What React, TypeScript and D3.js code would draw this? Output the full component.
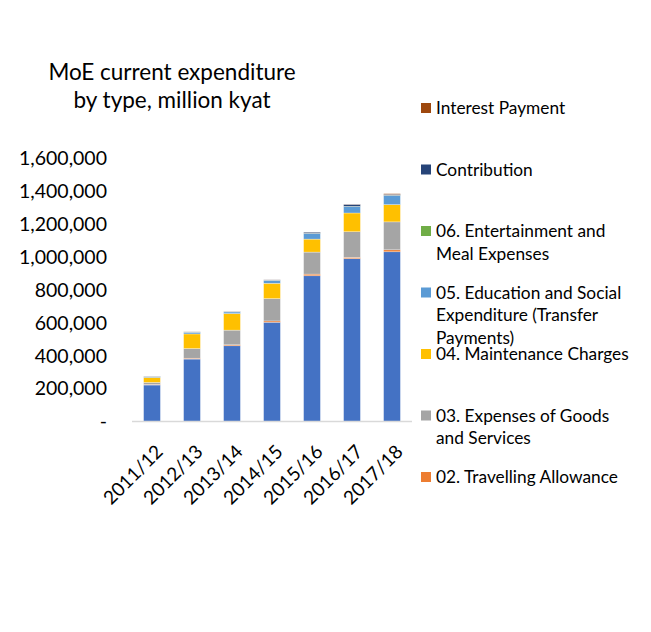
import React from "react";
import * as d3 from "d3";

const years = ["2011/12", "2012/13", "2013/14", "2014/15", "2015/16", "2016/17", "2017/18"];
const seriesNames = [
  "01. Salary",
  "02. Travelling Allowance",
  "03. Expenses of Goods and Services",
  "04. Maintenance Charges",
  "05. Education and Social Expenditure (Transfer Payments)",
  "06. Entertainment and Meal Expenses",
  "Contribution",
  "Interest Payment",
];
const salary = [222000, 380000, 461000, 604000, 887000, 991000, 1033000];
const travelling = [4000, 5000, 6000, 8000, 10000, 8000, 12000];
const goods = [12000, 59000, 89000, 136000, 134000, 156000, 170000];
const maintenance = [30000, 89000, 101000, 93000, 79000, 114000, 105000];
const education = [6000, 10000, 10000, 18000, 34000, 39000, 55000];
const entertainment = [500, 800, 800, 1000, 1200, 1300, 1500];
const contribution = [1000, 1500, 2000, 2000, 7000, 12000, 6000];
const interest = [500, 500, 500, 500, 500, 1000, 4000];
const yTicks = [0, 200000, 400000, 600000, 800000, 1000000, 1200000, 1400000, 1600000];
const colors = ["#4472C4", "#ED7D31", "#A5A5A5", "#FFC000", "#5B9BD5", "#70AD47", "#264478", "#9E480E"];

const legendItems = [
  { idx: 7, lines: ["Interest Payment"] },
  { idx: 6, lines: ["Contribution"] },
  { idx: 5, lines: ["06. Entertainment and", "Meal Expenses"] },
  { idx: 4, lines: ["05. Education and Social", "Expenditure (Transfer", "Payments)"] },
  { idx: 3, lines: ["04. Maintenance Charges"] },
  { idx: 2, lines: ["03. Expenses of Goods", "and Services"] },
  { idx: 1, lines: ["02. Travelling Allowance"] },
];

const FONT = "Lato, 'Open Sans', sans-serif";

export default function App() {
  const W = 651, H = 632;
  const allSeries = [salary, travelling, goods, maintenance, education, entertainment, contribution, interest];
  const rows = years.map((y, i) => {
    const r: any = { year: y };
    seriesNames.forEach((n, k) => (r[n] = allSeries[k][i]));
    return r;
  });
  const stack = d3.stack<any>().keys(seriesNames)(rows);
  const x = d3.scaleBand().domain(years).range([132, 412]).paddingInner(0.58).paddingOuter(0.29);
  const y = d3.scaleLinear().domain([0, 1600000]).range([421.5, 158.6]);
  const fmt = (v: number) => (v === 0 ? "-" : d3.format(",")(v));

  const legendTop = [108, 169.5, 231, 292.5, 354, 415.5, 477];

  return (
    <svg width={W} height={H} style={{ display: "block", position: "absolute", left: 0, top: 0, background: "#fff" }} fontFamily={FONT}>
      <rect width={W} height={H} fill="#fff" />
      <text x={172} y={80} textAnchor="middle" fontSize={22.5} fill="#000">MoE current expenditure</text>
      <text x={172} y={107.5} textAnchor="middle" fontSize={22.5} fill="#000">by type, million kyat</text>
      {yTicks.map((t) => (
        <text key={t} x={107} y={y(t)} dy="0.35em" textAnchor="end" fontSize={19.5} fill="#000">{fmt(t)}</text>
      ))}
      {stack.map((s, k) => (
        <g key={k} fill={colors[k]}>
          {s.map((d, i) => (
            <rect key={i} x={x(years[i])} width={x.bandwidth()} y={y(d[1])} height={Math.max(0, y(d[0]) - y(d[1]))}
              stroke="#fff" strokeOpacity={0.5} strokeWidth={0.6} />
          ))}
        </g>
      ))}
      <line x1={132} x2={412} y1={421.5} y2={421.5} stroke="#D9D9D9" strokeWidth={1.5} />
      {years.map((yr) => {
        const cx = (x(yr) as number) + x.bandwidth() / 2 + 12;
        return (
          <text key={yr} transform={`translate(${cx},${453}) rotate(-45)`} textAnchor="end" fontSize={19} fill="#000">{yr}</text>
        );
      })}
      {legendItems.map((it, j) => (
        <g key={j}>
          <rect x={421} y={legendTop[j] - 5} width={10} height={10} fill={colors[it.idx]} />
          {it.lines.map((ln, m) => (
            <text key={m} x={436} y={legendTop[j] + m * 22.5} dy="0.35em" fontSize={17.3} fill="#000">{ln}</text>
          ))}
        </g>
      ))}
    </svg>
  );
}
